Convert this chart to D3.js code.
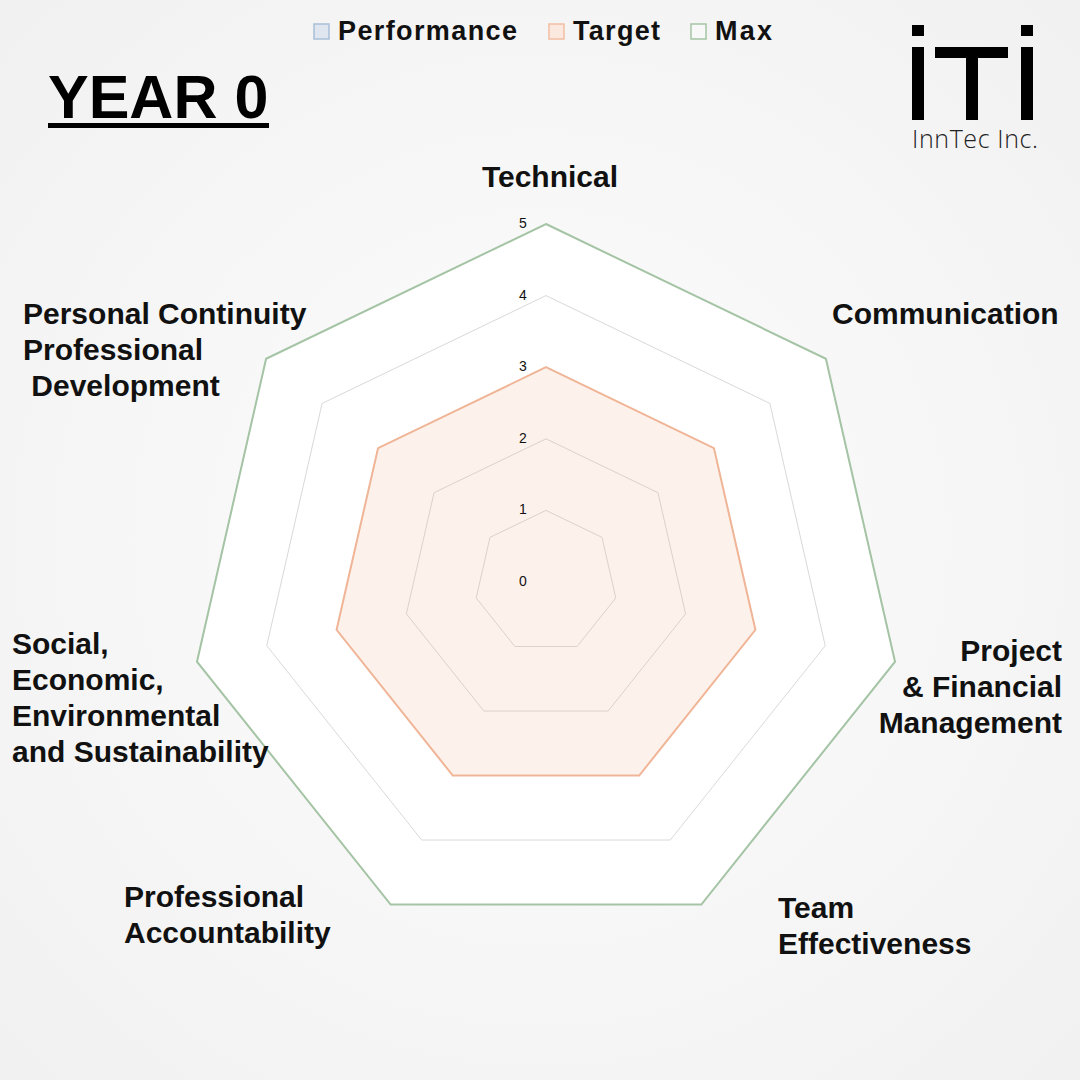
<!DOCTYPE html>
<html>
<head>
<meta charset="utf-8">
<script src="https://cdn.jsdelivr.net/npm/d3@7"></script>
<style>
  html, body { margin: 0; padding: 0; }
  body { width: 1080px; height: 1080px; overflow: hidden; }
  text { font-family: "Liberation Sans", Arial, sans-serif; }
</style>
</head>
<body>
<div id="chart"></div>
<script>
// datos del grafico
const categories = [
    ["Technical"],
    ["Communication"],
    ["Project", "& Financial", "Management"],
    ["Team", "Effectiveness"],
    ["Professional", "Accountability"],
    ["Social,", "Economic,", "Environmental", "and Sustainability"],
    ["Personal Continuity", "Professional", "\u00a0Development"]
];
const performance = [0, 0, 0, 0, 0, 0, 0];
const target = [3, 3, 3, 3, 3, 3, 3];
const maxValues = [5, 5, 5, 5, 5, 5, 5];
const ticks = [0, 1, 2, 3, 4, 5];
const legendNames = ["Performance", "Target", "Max"];

const W = 1080, H = 1080;
const cx = 546, cy = 582, radius = 358;

const svg = d3.select("#chart").append("svg")
    .attr("width", W)
    .attr("height", H);

// fondo
const defs = svg.append("defs");
const grad = defs.append("radialGradient")
    .attr("id", "bg")
    .attr("cx", "50%").attr("cy", "50%").attr("r", "75%");
grad.append("stop").attr("offset", "0%").attr("stop-color", "#fdfdfd");
grad.append("stop").attr("offset", "100%").attr("stop-color", "#f0f0f0");
svg.append("rect").attr("width", W).attr("height", H).attr("fill", "url(#bg)");

// escalas
const r = d3.scaleLinear().domain([0, 5]).range([0, radius]);
const angle = d3.scaleLinear().domain([0, categories.length]).range([0, 2 * Math.PI]);

const radar = d3.lineRadial()
    .angle((d, i) => angle(i))
    .radius(d => r(d))
    .curve(d3.curveLinearClosed);

const g = svg.append("g").attr("transform", `translate(${cx}, ${cy})`);

// area blanca dentro del maximo
g.append("path")
    .attr("d", radar(maxValues))
    .attr("fill", "#ffffff");

// rejilla
g.selectAll(".grid")
    .data(ticks.slice(1))
    .join("path")
    .attr("class", "grid")
    .attr("d", t => radar(categories.map(() => t)))
    .attr("fill", "none")
    .attr("stroke", "#d9d9d9")
    .attr("stroke-width", 1);

// series
g.append("path")
    .attr("d", radar(target))
    .attr("fill", "#f4b183")
    .attr("fill-opacity", 0.16)
    .attr("stroke", "#f0b597")
    .attr("stroke-width", 2);

g.append("path")
    .attr("d", radar(maxValues))
    .attr("fill", "none")
    .attr("stroke", "#a5c4a5")
    .attr("stroke-width", 2);

g.append("path")
    .attr("d", radar(performance))
    .attr("fill", "#dae3f0")
    .attr("fill-opacity", 0.5)
    .attr("stroke", "#a9bfd8")
    .attr("stroke-width", 2);

// etiquetas de ticks
g.selectAll(".tick")
    .data(ticks)
    .join("text")
    .attr("class", "tick")
    .attr("x", -23)
    .attr("y", t => -r(t) - 1)
    .attr("dy", "0.35em")
    .attr("text-anchor", "middle")
    .attr("font-size", 14)
    .attr("fill", "#111")
    .text(t => t);

// etiquetas de categorias
const labelPos = [
    { x: 550, y: 187, anchor: "middle" },
    { x: 832, y: 324, anchor: "start" },
    { x: 1062, y: 661, anchor: "end" },
    { x: 778, y: 918, anchor: "start" },
    { x: 124, y: 907, anchor: "start" },
    { x: 12, y: 654, anchor: "start" },
    { x: 23, y: 324, anchor: "start" }
];
const lineH = 36;
categories.forEach((lines, i) => {
    const p = labelPos[i];
    const t = svg.append("text")
        .attr("x", p.x)
        .attr("y", p.y)
        .attr("text-anchor", p.anchor)
        .attr("font-size", 30)
        .attr("font-weight", "bold")
        .attr("fill", "#111")
        .style("white-space", "pre");
    lines.forEach((line, j) => {
        t.append("tspan")
            .attr("x", p.x)
            .attr("y", p.y + j * lineH)
            .text(line);
    });
});

// leyenda
const legendColors = [
    { fill: "#dfe6ef", stroke: "#a9bfd8" },
    { fill: "#fbe9df", stroke: "#f2bda3" },
    { fill: "#f8f8f8", stroke: "#a5c4a5" }
];
const legendX = [313, 548, 690];
const legendW = [179, 87, 57];
legendNames.forEach((name, i) => {
    svg.append("rect")
        .attr("x", legendX[i] + 1)
        .attr("y", 24)
        .attr("width", 15)
        .attr("height", 15)
        .attr("fill", legendColors[i].fill)
        .attr("stroke", legendColors[i].stroke)
        .attr("stroke-width", 1.5);
    svg.append("text")
        .attr("x", legendX[i] + 25)
        .attr("y", 40)
        .attr("font-size", 27)
        .attr("font-weight", "bold")
        .attr("fill", "#111")
        .attr("textLength", legendW[i])
        .text(name);
});

// titulo
svg.append("text")
    .attr("x", 48)
    .attr("y", 118)
    .attr("font-size", 61)
    .attr("font-weight", "bold")
    .attr("fill", "#000")
    .text("YEAR 0");
svg.append("rect")
    .attr("x", 48)
    .attr("y", 123)
    .attr("width", 221)
    .attr("height", 5)
    .attr("fill", "#000");

// logo
const logo = svg.append("g");
[
    [912, 25, 12, 11], [912, 47, 12, 73],
    [935, 47, 73, 11], [966, 58, 12, 62],
    [1021, 25, 12, 11], [1021, 47, 12, 73]
].forEach(d => {
    logo.append("rect")
        .attr("x", d[0]).attr("y", d[1])
        .attr("width", d[2]).attr("height", d[3])
        .attr("fill", "#000");
});
logo.append("text")
    .attr("x", 912)
    .attr("y", 148)
    .attr("font-size", 25)
    .attr("font-weight", 300)
    .attr("fill", "#222")
    .style("font-family", "'Open Sans', 'Noto Sans', sans-serif")
    .attr("textLength", 126)
    .text("InnTec Inc.");
</script>
</body>
</html>
